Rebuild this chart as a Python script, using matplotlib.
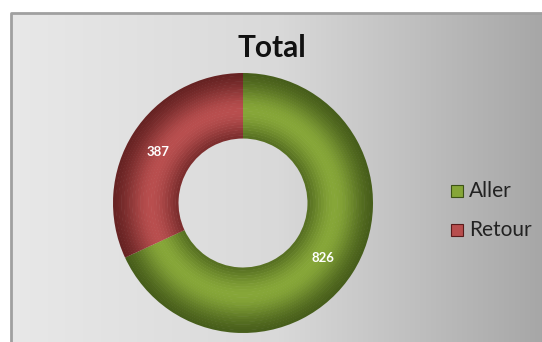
import numpy as np
import matplotlib
matplotlib.use("Agg")
import matplotlib.pyplot as plt
import matplotlib.colors as mcolors

categories = ["Aller", "Retour"]
values = [826, 387]
title = "Total"

base_colors = ["#86a638", "#b84e4e"]
dark_colors = ["#3d5216", "#5a1c1c"]

W, H, DPI = 542, 342, 100
fig = plt.figure(figsize=(W / DPI, H / DPI), dpi=DPI, facecolor="white")

# background panel with gradient
bg = fig.add_axes([0, 0, 1, 1])
bg.set_xlim(0, W)
bg.set_ylim(H, 0)
bg.axis("off")
grad = np.linspace(0, 1, 256)[None, :]
cmap_bg = mcolors.LinearSegmentedColormap.from_list("bg", ["#e8e8e8", "#d9d9d9", "#a6a6a6"])
bg.imshow(grad, cmap=cmap_bg, extent=[11, W + 5, H + 5, 13], aspect="auto", zorder=0)
bg.plot([11, 11, W + 5], [H + 5, 13, 13], color="#a0a0a0", lw=2.0, zorder=1)

# donut
ax = fig.add_axes([113 / W, 9 / H, 260 / W, 260 / H])
n_layers = 24
r_in, r_out = 0.5, 1.0
edges = np.linspace(r_in, r_out, n_layers + 1)
for k in range(n_layers):
    r_mid = (edges[k] + edges[k + 1]) / 2
    t = (r_mid - r_in) / (r_out - r_in)
    b = np.exp(-((t - 0.42) / 0.40) ** 2)
    cols = []
    for c, d in zip(base_colors, dark_colors):
        c1 = np.array(mcolors.to_rgb(c))
        d1 = np.array(mcolors.to_rgb(d))
        cols.append(tuple(d1 + (c1 - d1) * b))
    ax.pie(values, radius=edges[k + 1], startangle=90, counterclock=False,
           colors=cols, wedgeprops=dict(width=edges[k + 1] - edges[k] + 0.004, linewidth=0))

ax.set_xlim(-1, 1)
ax.set_ylim(-1, 1)
ax.set_aspect("equal")
ax.axis("off")

# value labels
label_xy = [(0.615, -0.42), (-0.655, 0.39)]
for v, (x, y) in zip(values, label_xy):
    ax.text(x, y, str(v), color="white", fontsize=9.5, fontweight="bold",
            ha="center", va="center", family=["Lato", "DejaVu Sans"])

# title
fig.text(271.5 / W, 1 - 48 / H, title, fontsize=21.5, fontweight="bold",
         ha="center", va="center", color="#111111", family=["Lato", "DejaVu Sans"])

# legend (manual)
leg_y = [191, 230]
for cat, c, d, y in zip(categories, base_colors, dark_colors, leg_y):
    bg.plot([457], [y], marker="s", markersize=8, markerfacecolor=c,
            markeredgecolor=d, markeredgewidth=0.8, linestyle="none", zorder=3)
    bg.text(469, y, cat, fontsize=15, color="#222222", ha="left", va="center",
            family=["Lato", "DejaVu Sans"], zorder=3)

fig.savefig("out.png", dpi=DPI, facecolor="white")
